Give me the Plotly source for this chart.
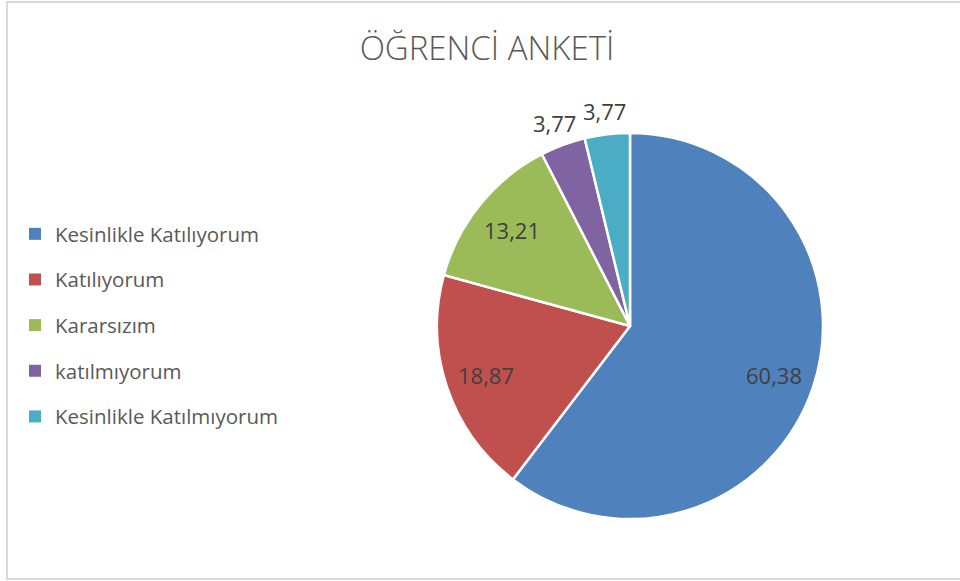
import math
import plotly.graph_objects as go

categories = ["Kesinlikle Katılıyorum", "Katılıyorum", "Kararsızım", "katılmıyorum", "Kesinlikle Katılmıyorum"]
values = [60.38, 18.87, 13.21, 3.77, 3.77]
colors = ["#4F81BD", "#C0504D", "#9BBB59", "#8064A2", "#4BACC6"]
label_outside = [False, False, False, True, True]

W, H = 960, 581
FONT = "Open Sans"

# pie geometry (pixels)
CX, CY, R = 630, 326, 193

fig = go.Figure()

fig.add_trace(go.Pie(
    labels=categories,
    values=values,
    sort=False,
    direction="clockwise",
    rotation=0,
    marker=dict(colors=colors, line=dict(color="white", width=2.5)),
    textinfo="none",
    showlegend=False,
    hoverinfo="label+value",
    domain=dict(x=[(CX - R) / W, (CX + R) / W], y=[(H - CY - R) / H, (H - CY + R) / H]),
))

# data labels placed at the slice mid-angles (derived from the values)
total = sum(values)
annotations = []
cum = 0.0
for v, outside in zip(values, label_outside):
    mid = (cum + v / 2) / total * 2 * math.pi
    cum += v
    rr = R * (1.12 if outside else 0.79)
    px = CX + rr * math.sin(mid)
    py = CY - rr * math.cos(mid)
    annotations.append(dict(
        x=px / W, y=1 - py / H, xref="paper", yref="paper",
        text=f"{v:.2f}".replace(".", ","), showarrow=False,
        xanchor="center", yanchor="middle",
        font=dict(family=FONT, size=22, color="#404040"),
    ))

for name, col in zip(categories, colors):
    fig.add_trace(go.Scatter(
        x=[None], y=[None], mode="markers", name=name,
        marker=dict(symbol="square", size=9, color=col),
        legendgroup=name, showlegend=True,
    ))

fig.update_layout(
    width=W, height=H,
    margin=dict(l=0, r=0, t=0, b=0),
    paper_bgcolor="white",
    plot_bgcolor="rgba(0,0,0,0)",
    separators=",.",
    title=dict(text="ÖĞRENCİ ANKETİ", x=487 / W, xanchor="center", y=1 - 48 / H, yanchor="middle",
               font=dict(family=FONT, size=33, color="#595959", weight=300)),
    xaxis=dict(visible=False),
    yaxis=dict(visible=False),
    legend=dict(x=15 / W, xanchor="left", y=1 - 325.5 / H, yanchor="middle",
                font=dict(family=FONT, size=20.5, color="#595959"),
                tracegroupgap=16, itemwidth=30, itemsizing="constant", bgcolor="rgba(0,0,0,0)"),
    annotations=annotations,
    shapes=[dict(type="rect", xref="paper", yref="paper", x0=7 / W, x1=1.02, y0=2 / H, y1=1 - 2 / H,
                 line=dict(color="#D9D9D9", width=2), layer="above")],
)

fig.write_html("out.html", config={"displayModeBar": False},
               post_script="document.body.style.margin='0';")
